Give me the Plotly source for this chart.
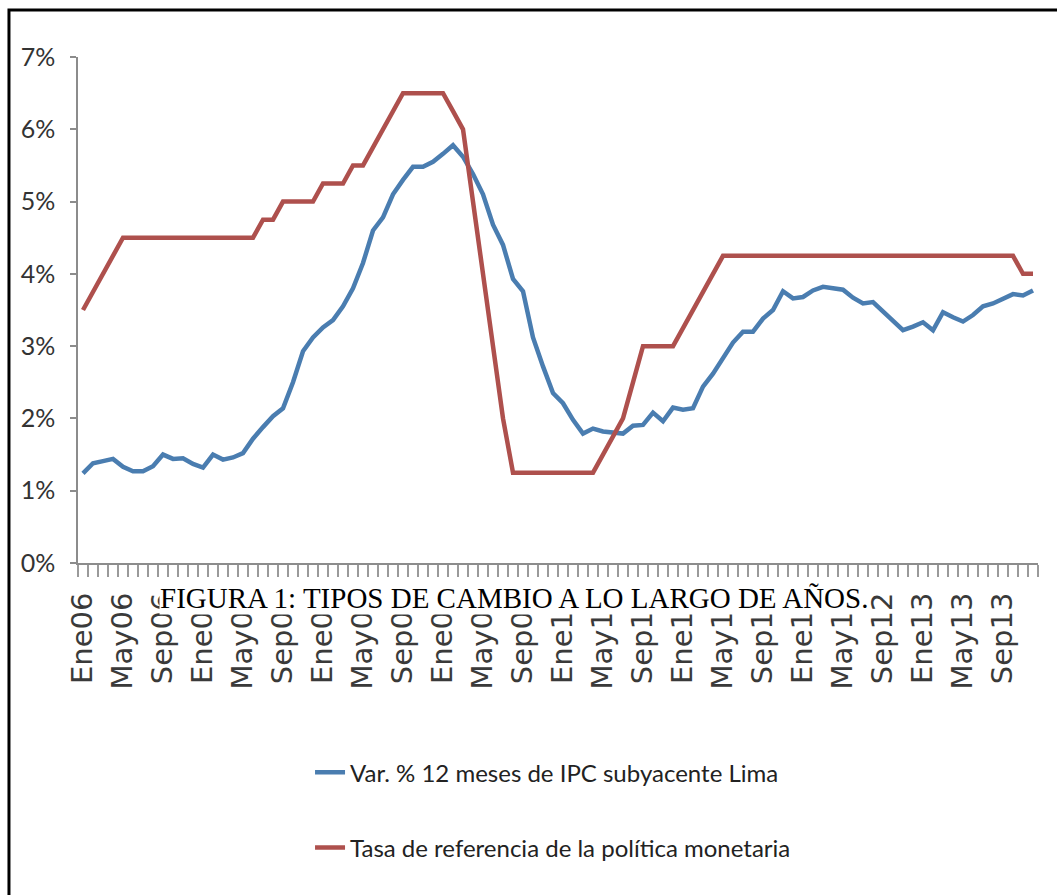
import plotly.graph_objects as go

# ---- data -------------------------------------------------------------
meses = ["Ene", "Feb", "Mar", "Abr", "May", "Jun", "Jul", "Ago", "Sep", "Oct", "Nov", "Dic"]
anios = ["06", "07", "08", "09", "10", "11", "12", "13"]
categorias = [m + a for a in anios for m in meses]  # Ene06 ... Dic13

ipc_subyacente = [
    1.24, 1.38, 1.41, 1.44, 1.33, 1.27, 1.27, 1.34, 1.50, 1.44, 1.45, 1.37,   # 2006
    1.32, 1.50, 1.43, 1.46, 1.52, 1.72, 1.88, 2.03, 2.14, 2.50, 2.93, 3.12,   # 2007
    3.26, 3.36, 3.55, 3.80, 4.15, 4.60, 4.78, 5.10, 5.30, 5.48, 5.48, 5.55,   # 2008
    5.66, 5.78, 5.62, 5.38, 5.10, 4.68, 4.40, 3.93, 3.76, 3.12, 2.72, 2.35,   # 2009
    2.21, 1.98, 1.79, 1.86, 1.82, 1.80, 1.79, 1.90, 1.91, 2.08, 1.96, 2.15,   # 2010
    2.12, 2.14, 2.44, 2.62, 2.85, 3.05, 3.20, 3.20, 3.38, 3.50, 3.76, 3.66,   # 2011
    3.68, 3.77, 3.82, 3.80, 3.78, 3.67, 3.59, 3.61, 3.48, 3.34, 3.22, 3.27,   # 2012
    3.33, 3.22, 3.47, 3.40, 3.34, 3.43, 3.55, 3.59, 3.65, 3.72, 3.70, 3.77,   # 2013
]

tasa_referencia = [
    3.50, 3.75, 4.00, 4.25, 4.50, 4.50, 4.50, 4.50, 4.50, 4.50, 4.50, 4.50,   # 2006
    4.50, 4.50, 4.50, 4.50, 4.50, 4.50, 4.75, 4.75, 5.00, 5.00, 5.00, 5.00,   # 2007
    5.25, 5.25, 5.25, 5.50, 5.50, 5.75, 6.00, 6.25, 6.50, 6.50, 6.50, 6.50,   # 2008
    6.50, 6.25, 6.00, 5.00, 4.00, 3.00, 2.00, 1.25, 1.25, 1.25, 1.25, 1.25,   # 2009
    1.25, 1.25, 1.25, 1.25, 1.50, 1.75, 2.00, 2.50, 3.00, 3.00, 3.00, 3.00,   # 2010
    3.25, 3.50, 3.75, 4.00, 4.25, 4.25, 4.25, 4.25, 4.25, 4.25, 4.25, 4.25,   # 2011
    4.25, 4.25, 4.25, 4.25, 4.25, 4.25, 4.25, 4.25, 4.25, 4.25, 4.25, 4.25,   # 2012
    4.25, 4.25, 4.25, 4.25, 4.25, 4.25, 4.25, 4.25, 4.25, 4.25, 4.00, 4.00,   # 2013
]

nombres_series = ["Var. % 12 meses de IPC subyacente Lima",
                  "Tasa de referencia de la política monetaria"]
y_ticks = [0, 1, 2, 3, 4, 5, 6, 7]
y_ticktext = [f"{v}%" for v in y_ticks]
titulo = "FIGURA 1: TIPOS DE CAMBIO A LO LARGO DE AÑOS."

# ---- figure -----------------------------------------------------------
idx = list(range(len(categorias)))
label_idx = idx[::4]
label_txt = [categorias[i] for i in label_idx]

AZUL = "#4A7DB0"
ROJO = "#AE504D"
SANS = "Lato, Roboto, Arial, sans-serif"

fig = go.Figure()
fig.add_trace(go.Scatter(x=idx, y=ipc_subyacente, mode="lines", name=nombres_series[0],
                         line=dict(color=AZUL, width=4.5), legendgroup="a"))
fig.add_trace(go.Scatter(x=idx, y=tasa_referencia, mode="lines", name=nombres_series[1],
                         line=dict(color=ROJO, width=4.5), legendgroup="b"))

fig.update_layout(
    width=1057, height=895,
    margin=dict(l=78, r=19, t=57, b=332),
    paper_bgcolor="white", plot_bgcolor="white",
    showlegend=True,
    legend=dict(x=0.2417, y=-0.37, xanchor="left", yanchor="top",
                font=dict(family=SANS, size=24, color="#222222"),
                tracegroupgap=41, bgcolor="rgba(0,0,0,0)"),
    xaxis=dict(
        range=[-0.5, len(categorias) - 0.5],
        tickmode="array", tickvals=label_idx, ticktext=label_txt,
        tickangle=-90, ticks="outside", ticklen=12, tickcolor="rgba(0,0,0,0)",
        ticklabelstandoff=4,
        tickfont=dict(family="DejaVu Sans, sans-serif", size=29, color="#3a3a3a"),
        showline=True, linecolor="#8c8c8c", linewidth=2,
        showgrid=False, zeroline=False,
        minor=dict(tick0=-0.5, dtick=1, ticks="outside", ticklen=12,
                   tickcolor="#9a9a9a", tickwidth=1.5, showgrid=False),
    ),
    yaxis=dict(
        range=[0, 7], tickmode="array", tickvals=y_ticks, ticktext=y_ticktext,
        ticks="outside", ticklen=6, tickcolor="#8c8c8c", tickwidth=1.5,
        ticklabelstandoff=10,
        tickfont=dict(family=SANS, size=25, color="#333333"),
        showline=True, linecolor="#8c8c8c", linewidth=1.5,
        showgrid=False, zeroline=False,
    ),
    annotations=[dict(
        text=titulo, xref="paper", yref="paper", x=0.454, y=-0.069,
        xanchor="center", yanchor="middle", showarrow=False,
        font=dict(family="Liberation Serif, Times New Roman, serif", size=29, color="black"),
        bgcolor="white", borderpad=0,
    )],
    shapes=[dict(type="rect", xref="paper", yref="paper",
                 x0=-0.0719, x1=1.03, y0=-0.68, y1=1.0929,
                 line=dict(color="black", width=3), fillcolor="rgba(0,0,0,0)")],
)

fig.write_html("out.html")
